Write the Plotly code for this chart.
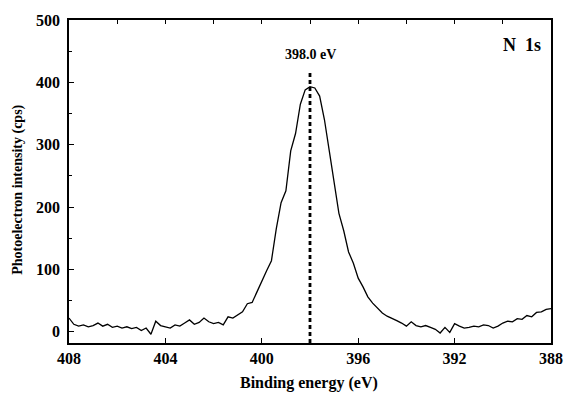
import plotly.graph_objects as go

energy = [round(408.0 - 0.2 * i, 1) for i in range(101)]
intensity = [
    22, 12, 9, 11, 8, 10, 14, 9, 12, 7,
    9, 6, 8, 5, 7, 2, 6, -4, 17, 10,
    8, 6, 11, 9, 14, 19, 12, 15, 22, 16,
    13, 15, 11, 24, 22, 27, 32, 45, 47, 64,
    82, 98, 114, 165, 207, 226, 290, 318, 365, 388,
    393, 391, 378, 340, 290, 240, 190, 162, 128, 110,
    86, 72, 56, 46, 38, 30, 25, 22, 18, 14,
    9, 16, 10, 8, 10, 7, 4, -2, 7, -1,
    13, 9, 6, 7, 9, 8, 11, 10, 6, 9,
    14, 17, 16, 21, 20, 26, 24, 31, 32, 36,
    37,
]
peak_x = [398.0, 398.0]
peak_y = [-18, 416]
peak_label = "398.0 eV"
region_label = "N  1s"
x_title = "Binding energy (eV)"
y_title = "Photoelectron intensity (cps)"

font_fam = "Liberation Serif, Times New Roman, serif"

fig = go.Figure()
fig.add_trace(go.Scatter(x=energy, y=intensity, mode="lines",
                         line=dict(color="black", width=1.3), showlegend=False))
fig.add_trace(go.Scatter(x=peak_x, y=peak_y, mode="lines",
                         line=dict(color="black", width=2.8, dash="4px,3px"),
                         showlegend=False))
# invisible trace for top axis
fig.add_trace(go.Scatter(x=[408, 388], y=[0, 0], mode="markers",
                         marker=dict(opacity=0), xaxis="x2", showlegend=False,
                         hoverinfo="skip"))

fig.add_annotation(x=398.0, y=444, text="<b>" + peak_label + "</b>", showarrow=False,
                   font=dict(family=font_fam, size=14, color="black"))
fig.add_annotation(x=389.2, y=460, text="<b>" + region_label + "</b>", showarrow=False,
                   font=dict(family=font_fam, size=18, color="black"))
fig.add_annotation(xref="paper", yref="paper", x=-0.106, y=0.474,
                   xanchor="center", yanchor="middle", textangle=-90,
                   text="<b>" + y_title + "</b>", showarrow=False,
                   font=dict(family=font_fam, size=14, color="black"))
fig.add_annotation(xref="paper", yref="paper", x=0.497, y=-0.124,
                   xanchor="center", yanchor="middle",
                   text="<b>" + x_title + "</b>", showarrow=False,
                   font=dict(family=font_fam, size=16, color="black"))

fig.update_layout(
    autosize=True,
    margin=dict(l=69, r=16, t=20, b=51, autoexpand=False),
    paper_bgcolor="white", plot_bgcolor="white",
    font=dict(family=font_fam, color="black"),
    xaxis=dict(range=[408, 388], tickvals=[408, 404, 400, 396, 392, 388],
               ticktext=["<b>%d</b>" % v for v in [408, 404, 400, 396, 392, 388]],
               ticks="inside", ticklen=5, tickwidth=1.2, tickcolor="black",
               ticklabeloverflow="allow", automargin=False,
               showline=True, linecolor="black", linewidth=1.5, mirror=True,
               showgrid=False, zeroline=False,
               tickfont=dict(family=font_fam, size=16, color="black")),
    xaxis2=dict(range=[408, 388], overlaying="x", side="top", dtick=2, tick0=388,
                ticks="inside", ticklen=4, tickwidth=1.2, tickcolor="black",
                showticklabels=False, showgrid=False, zeroline=False, showline=False),
    yaxis=dict(range=[-18, 500], tickvals=[0, 100, 200, 300, 400, 500],
               ticktext=["<b>%d</b>" % v for v in [0, 100, 200, 300, 400, 500]],
               ticks="inside", ticklen=5, tickwidth=1.2, tickcolor="black",
               ticklabelstandoff=4, automargin=False,
               minor=dict(dtick=50, tick0=0, ticks="inside", ticklen=3,
                          tickcolor="black", tickwidth=1),
               showline=True, linecolor="black", linewidth=1.5, mirror=True,
               showgrid=False, zeroline=False,
               tickfont=dict(family=font_fam, size=16, color="black")),
)

fig.write_html("out.html",
               config={"displayModeBar": False, "responsive": True},
               default_width="100vw", default_height="100vh",
               post_script="document.body.style.margin='0';document.body.style.overflow='hidden';"
                           "document.documentElement.style.overflow='hidden';"
                           "window.dispatchEvent(new Event('resize'));")
